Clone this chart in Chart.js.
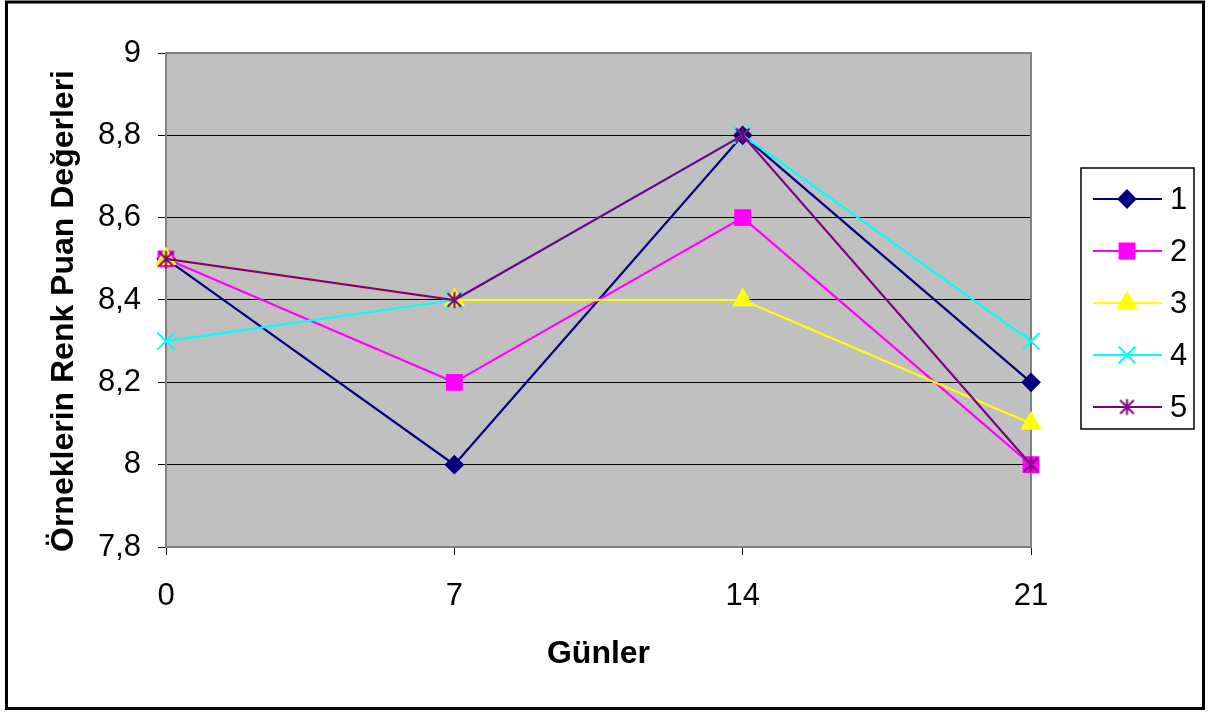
<!DOCTYPE html>
<html lang="tr">
<head>
<meta charset="utf-8">
<title>Örneklerin Renk Puan Değerleri</title>
<script src="https://cdn.jsdelivr.net/npm/chart.js@4/dist/chart.umd.min.js"></script>
<style>
  html, body { margin: 0; padding: 0; background: #ffffff; }
  #wrap { width: 1211px; height: 713px; }
</style>
</head>
<body>
<div id="wrap"><canvas id="c" width="1211" height="713"></canvas></div>
<script>
// Sampling days
const days = ['0', '7', '14', '21'];

// Colour score of each sample group
const series1 = [8.5, 8.0, 8.8, 8.2];
const series2 = [8.5, 8.2, 8.6, 8.0];
const series3 = [8.5, 8.4, 8.4, 8.1];
const series4 = [8.3, 8.4, 8.8, 8.3];
const series5 = [8.5, 8.4, 8.8, 8.0];

const seriesNames = ['1', '2', '3', '4', '5'];

const yTitle = 'Örneklerin Renk Puan Değerleri';
const xTitle = 'Günler';

const FONT = '"Liberation Sans", Arial, Helvetica, sans-serif';

// Asterisk marker (vertical stroke plus an X)
function makeAsterisk(color) {
  const s = 19;
  const cv = document.createElement('canvas');
  cv.width = s; cv.height = s;
  const g = cv.getContext('2d');
  g.strokeStyle = color;
  g.lineWidth = 2;
  const c = s / 2, r = 8;
  g.beginPath();
  g.moveTo(c, c - r); g.lineTo(c, c + r);
  g.moveTo(c - r * 0.85, c - r * 0.85); g.lineTo(c + r * 0.85, c + r * 0.85);
  g.moveTo(c + r * 0.85, c - r * 0.85); g.lineTo(c - r * 0.85, c + r * 0.85);
  g.stroke();
  return cv;
}

function makeSeries(label, data, color, style, radius, order) {
  return {
    label, data,
    borderColor: color,
    backgroundColor: color,
    pointBackgroundColor: color,
    pointBorderColor: color,
    pointStyle: style,
    pointRadius: radius,
    pointHoverRadius: radius,
    pointBorderWidth: 2,
    borderWidth: 2.2,
    tension: 0,
    fill: false,
    order
  };
}

const datasets = [
  makeSeries(seriesNames[0], series1, '#000080', 'rectRot', 8.5, 5),
  makeSeries(seriesNames[1], series2, '#FF00FF', 'rect', 10.5, 4),
  makeSeries(seriesNames[2], series3, '#FFFF00', 'triangle', 10.4, 3),
  makeSeries(seriesNames[3], series4, '#00FFFF', 'crossRot', 12, 2),
  makeSeries(seriesNames[4], series5, '#800080', makeAsterisk('#800080'), 9, 1)
];

// Backgrounds, plot frame, outer border, axis titles and the boxed legend
const decor = {
  id: 'decor',
  beforeDraw(chart) {
    const { ctx, chartArea: a } = chart;
    ctx.save();
    ctx.fillStyle = '#ffffff';
    ctx.fillRect(0, 0, chart.width, chart.height);
    ctx.fillStyle = '#C0C0C0';
    ctx.fillRect(a.left, a.top, a.right - a.left, a.bottom - a.top);
    ctx.restore();
  },
  beforeDatasetsDraw(chart) {
    const { ctx, chartArea: a } = chart;
    ctx.save();
    ctx.strokeStyle = '#808080';
    ctx.lineWidth = 2;
    ctx.strokeRect(a.left, a.top, a.right - a.left, a.bottom - a.top);
    ctx.restore();
  },
  afterDraw(chart) {
    const { ctx, chartArea: a } = chart;
    ctx.save();
    // outer frame
    ctx.strokeStyle = '#000000';
    ctx.lineWidth = 3;
    ctx.strokeRect(6.5, 2, 1197, 706.5);

    // axis titles
    ctx.fillStyle = '#000000';
    ctx.font = 'bold 32px ' + FONT;
    ctx.textAlign = 'center';
    ctx.textBaseline = 'alphabetic';
    ctx.fillText(xTitle, (a.left + a.right) / 2, 663);
    ctx.translate(73, 311);
    ctx.rotate(-Math.PI / 2);
    ctx.fillText(yTitle, 0, 0);
    ctx.restore();

    // legend
    ctx.save();
    ctx.fillStyle = '#ffffff';
    ctx.fillRect(1081, 168, 113, 261);
    ctx.strokeStyle = '#000000';
    ctx.lineWidth = 1.5;
    ctx.strokeRect(1081, 168, 113, 261);
    const ds = chart.data.datasets;
    ds.forEach((d, i) => {
      const y = 199 + i * 52;
      ctx.strokeStyle = d.borderColor;
      ctx.lineWidth = d.borderWidth;
      ctx.beginPath();
      ctx.moveTo(1093, y);
      ctx.lineTo(1162, y);
      ctx.stroke();
      ctx.fillStyle = d.pointBackgroundColor;
      ctx.strokeStyle = d.pointBorderColor;
      ctx.lineWidth = d.pointBorderWidth;
      Chart.helpers.drawPoint(ctx, {
        pointStyle: d.pointStyle,
        radius: d.pointRadius,
        borderWidth: d.pointBorderWidth,
        rotation: 0
      }, 1127, y);
      ctx.fillStyle = '#000000';
      ctx.font = '31px ' + FONT;
      ctx.textAlign = 'left';
      ctx.textBaseline = 'middle';
      ctx.fillText(d.label, 1170, y + 1);
    });
    ctx.restore();
  }
};

new Chart(document.getElementById('c'), {
  type: 'line',
  data: { labels: days, datasets },
  options: {
    responsive: false,
    animation: false,
    devicePixelRatio: 1,
    layout: { padding: { left: 0, right: 180, top: 53, bottom: 0 } },
    plugins: {
      legend: { display: false },
      tooltip: { enabled: false }
    },
    scales: {
      x: {
        type: 'category',
        offset: false,
        afterFit(scale) { scale.height = 166; },
        grid: {
          drawOnChartArea: false,
          drawTicks: true,
          tickLength: 8,
          color: '#000000',
          lineWidth: 1
        },
        border: { display: true, color: '#808080', width: 2 },
        ticks: {
          color: '#000000',
          font: { family: FONT, size: 31 },
          padding: 23,
          maxRotation: 0
        }
      },
      y: {
        min: 7.8,
        max: 9,
        afterFit(scale) { scale.width = 166; },
        grid: {
          drawOnChartArea: true,
          drawTicks: true,
          tickLength: 8,
          color: '#000000',
          lineWidth: 1
        },
        border: { display: true, color: '#808080', width: 2 },
        ticks: {
          stepSize: 0.2,
          color: '#000000',
          font: { family: FONT, size: 31 },
          padding: 17,
          callback: (v) => (Math.round(v * 10) / 10).toString().replace('.', ',')
        }
      }
    }
  },
  plugins: [decor]
});
</script>
</body>
</html>
